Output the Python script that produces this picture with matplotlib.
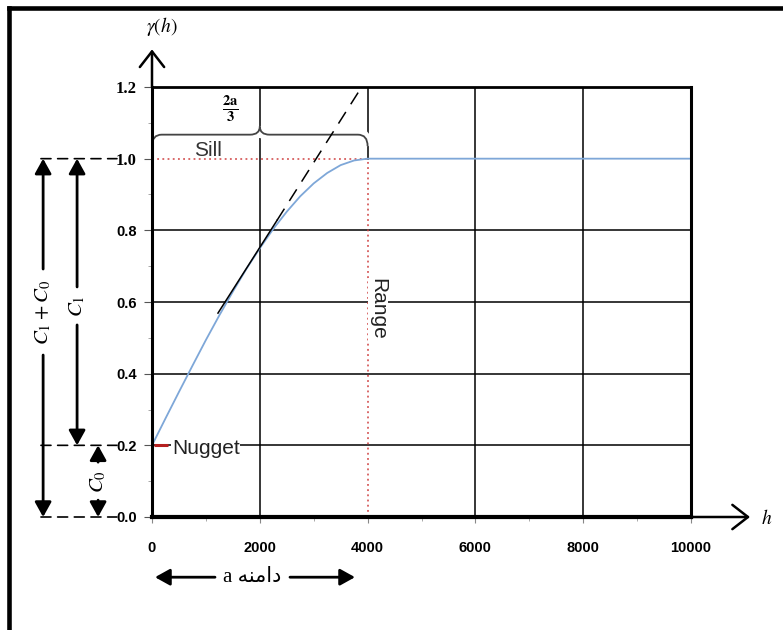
import numpy as np
import matplotlib
matplotlib.use("Agg")
import matplotlib.pyplot as plt
import matplotlib.patheffects as pe
from matplotlib.path import Path
from matplotlib.patches import PathPatch
from matplotlib.lines import Line2D

plt.rcParams['mathtext.fontset'] = 'stix'

# semivariogram (nugget 0.2, sill 1.0, range 4000)
lag = [0, 250, 500, 750, 1000, 1250, 1500, 1750, 2000, 2250, 2500,
       2750, 3000, 3250, 3500, 3750, 4000, 10000]
gamma = [0.20, 0.275, 0.349, 0.422, 0.494, 0.563, 0.629, 0.692, 0.750,
         0.804, 0.852, 0.895, 0.931, 0.960, 0.982, 0.995, 1.0, 1.0]

nugget = 0.2
sill = 1.0
range_a = 4000

# hand drawn slope line: solid part then dashed part
slope_solid_x = [1224, 2320]
slope_solid_y = [0.569, 0.828]
slope_dash_x = [2320, 3890]
slope_dash_y = [0.828, 1.2]

x_ticks = [0, 2000, 4000, 6000, 8000, 10000]
y_ticks = [0.0, 0.2, 0.4, 0.6, 0.8, 1.0, 1.2]
y_labels = ['0.0', '0.2', '0.4', '0.6', '0.8', '1.0', '1.2']

range_label = 'a ' + '\uFEEA\uFEE8\uFEE3\uFE8D\uFEA9'

fig = plt.figure(figsize=(7.83, 6.30), dpi=100)
ax = fig.add_axes([152/783, (630-517)/630, 539/783, 430/630])
ax.set_xlim(0, 10000)
ax.set_ylim(0, 1.2)

# grid
for yv in [0.2, 0.4, 0.6, 0.8]:
    ax.axhline(yv, color='black', lw=1.1, zorder=1.5)
for xv in [2000, 6000, 8000]:
    ax.axvline(xv, color='black', lw=1.1, zorder=1.5)
ax.plot([range_a, range_a], [sill, 1.2], color='black', lw=1.1, zorder=1.5)

# sill / range guides
ax.plot([0, range_a], [sill, sill], color='#d04040', lw=1.1, ls=(0, (1.2, 2.2)), zorder=2)
ax.plot([range_a, range_a], [0, sill], color='#d04040', lw=1.1, ls=(0, (1.2, 2.2)), zorder=2)

# model curve
ax.plot(lag, gamma, color='#7ea7d8', lw=1.3, zorder=3)

# slope line
ax.plot(slope_solid_x, slope_solid_y, color='black', lw=1.1, zorder=3.2)
ax.plot(slope_dash_x, slope_dash_y, color='black', lw=1.1, ls=(0, (9, 6)), zorder=3.2)

# nugget marker
ax.plot([40, 300], [nugget, nugget], color='#b52020', lw=2.2, zorder=3.5, solid_capstyle='butt')
ax.text(370, nugget - 0.008, 'Nugget', fontsize=15, color='#222222', family='Liberation Sans',
        va='center', ha='left', zorder=4,
        bbox=dict(facecolor='white', edgecolor='none', pad=0.5))

# range label
ax.text(4190, 0.58, 'Range', fontsize=15, color='#222222', family='Liberation Sans',
        rotation=270, va='center', ha='center', zorder=4,
        bbox=dict(facecolor='white', edgecolor='none', pad=0.5))

# sill label
ax.text(1040, 1.022, 'Sill', fontsize=15, color='#333333', family='Liberation Sans',
        va='center', ha='center', zorder=4)

# curly brace over 0..range
x0, x1, xm = 0, range_a, range_a / 2
yb, yc, yt, r = 1.035, 1.067, 1.09, 180
verts = [(x0, yb), (x0, yc), (x0 + r, yc), (xm - r, yc), (xm, yc), (xm, yt),
         (xm, yc), (xm + r, yc), (x1 - r, yc), (x1, yc), (x1, yb)]
codes = [Path.MOVETO, Path.CURVE3, Path.CURVE3, Path.LINETO, Path.CURVE3, Path.CURVE3,
         Path.CURVE3, Path.CURVE3, Path.LINETO, Path.CURVE3, Path.CURVE3]
brace = PathPatch(Path(verts, codes), facecolor='none', edgecolor='#444444', lw=1.3, zorder=2.2)
brace.set_path_effects([pe.Stroke(linewidth=8, foreground='white'), pe.Normal()])
ax.add_patch(brace)
ax.text(1450, 1.14, r'$\mathbf{\frac{2a}{3}}$', fontsize=15, ha='center', va='center', zorder=4)

# spines and ticks
for side, w in [('left', 2.2), ('bottom', 3.0), ('top', 2.0), ('right', 2.2)]:
    ax.spines[side].set_linewidth(w)
    ax.spines[side].set_zorder(5)
ax.set_xticks(x_ticks)
ax.set_xticklabels([str(v) for v in x_ticks])
ax.set_yticks(y_ticks)
ax.set_yticklabels(y_labels)
ax.set_xticks(np.arange(1000, 10000, 2000), minor=True)
ax.set_yticks(np.arange(0.1, 1.2, 0.2), minor=True)
ax.tick_params(axis='x', which='major', length=4, color='#888888', pad=13)
ax.tick_params(axis='y', which='major', length=6, color='#555555', pad=5)
ax.tick_params(which='minor', length=3, color='#999999')
for lab in ax.get_xticklabels() + ax.get_yticklabels():
    lab.set_fontweight('bold')
    lab.set_fontsize(10.5)
    lab.set_family('Liberation Sans')
for lab in ax.get_yticklabels():
    if lab.get_text() in ('1.0', '1.2'):
        lab.set_family('Liberation Serif')
        lab.set_fontsize(12)

# axis arrows
ax.annotate('', xy=(0, 1.305), xytext=(0, 1.2), annotation_clip=False,
            arrowprops=dict(arrowstyle='->,head_length=0.45,head_width=0.35',
                            lw=1.8, color='black', mutation_scale=25, shrinkA=0, shrinkB=0))
ax.annotate('', xy=(11095, 0), xytext=(10000, 0), annotation_clip=False,
            arrowprops=dict(arrowstyle='->,head_length=0.45,head_width=0.35',
                            lw=1.8, color='black', mutation_scale=25, shrinkA=0, shrinkB=0))
ax.text(180, 1.368, r'$\gamma(h)$', fontsize=14, ha='center', va='center', clip_on=False)
ax.text(11400, -0.005, r'$h$', fontsize=14, ha='center', va='center', clip_on=False)

# bracket arrows on the left
xc = ('axes fraction', 'data')
for yv in [sill, nugget, 0.0]:
    ax.annotate('', xy=(-0.065, yv), xytext=(-0.206, yv), xycoords=xc, textcoords=xc,
                annotation_clip=False,
                arrowprops=dict(arrowstyle='-', lw=1.2, ls=(0, (6, 4)), color='black',
                                shrinkA=0, shrinkB=0))

head = '-|>,head_length=0.45,head_width=0.25'
brackets = [(-0.202, sill, 0.0, 0.692, 0.452, 0.572, r'$C_1 + C_0$'),
            (-0.139, sill, nugget, 0.642, 0.536, 0.589, r'$C_1$'),
            (-0.100, nugget, 0.0, 0.153, 0.047, 0.100, r'$C_0$')]
for bx, top, bot, gap_hi, gap_lo, lab_y, lab in brackets:
    for start, end in [(gap_hi, top), (gap_lo, bot)]:
        ax.annotate('', xy=(bx, end), xytext=(bx, start), xycoords=xc, textcoords=xc,
                    annotation_clip=False,
                    arrowprops=dict(arrowstyle=head, lw=2.0, color='black',
                                    mutation_scale=20, shrinkA=0, shrinkB=0))
    ax.text(bx, lab_y, lab, transform=ax.get_yaxis_transform(), rotation=90,
            fontsize=15, ha='center', va='center', clip_on=False)

# range arrow under the x axis
ax.annotate('', xy=(56, -0.168), xytext=(1169, -0.168), annotation_clip=False,
            arrowprops=dict(arrowstyle=head, lw=2.0, color='black', mutation_scale=20,
                            shrinkA=0, shrinkB=0))
ax.annotate('', xy=(3766, -0.168), xytext=(2560, -0.168), annotation_clip=False,
            arrowprops=dict(arrowstyle=head, lw=2.0, color='black', mutation_scale=20,
                            shrinkA=0, shrinkB=0))
ax.text(1865, -0.168, range_label, fontsize=15, family=['Liberation Serif', 'DejaVu Sans'],
        ha='center', va='center', clip_on=False)

# outer frame (left and top edges)
fig.add_artist(Line2D([0.0121, 0.0121], [0, 0.9868], color='black', lw=3.3,
                      solid_capstyle='projecting'))
fig.add_artist(Line2D([0.0121, 1.0], [0.9868, 0.9868], color='black', lw=3.3,
                      solid_capstyle='projecting'))

fig.savefig('out.png', dpi=100, facecolor='white')
